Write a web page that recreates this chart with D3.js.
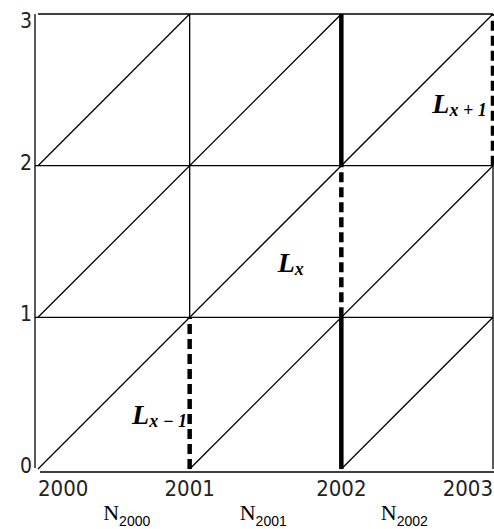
<!DOCTYPE html>
<html>
<head>
<meta charset="utf-8">
<script src="https://cdn.jsdelivr.net/npm/d3@7"></script>
<style>
  body { margin: 0; background: #fff; }
  svg { display: block; }
</style>
</head>
<body>
<div id="chart"></div>
<script>
// Lexis diagram data
var years = [2000, 2001, 2002, 2003];
var ages = [0, 1, 2, 3];
// vertical segments: year, age from, age to, style
var segYear = [2001, 2001, 2002, 2002, 2002, 2003, 2003];
var segFrom = [0, 1, 0, 1, 2, 0, 2];
var segTo   = [1, 3, 1, 2, 3, 2, 3];
var segKind = ["dash", "thin", "thick", "dash", "thick", "thin", "dash"];
// cohort diagonals: start year, start age
var diagYear = [2000, 2001, 2002, 2000, 2000];
var diagAge  = [0, 0, 0, 1, 2];
// L labels
var lSub  = ["x − 1", "x", "x + 1"];
var lYear = [2000.62, 2001.58, 2002.60];
var lAge  = [0.30, 1.30, 2.35];
// N labels
var nSub  = ["2000", "2001", "2002"];
var nYear = [2000.43, 2001.33, 2002.26];

var W = 494, H = 529;
var x = d3.scaleLinear().domain([2000, 2003]).range([38, 493]);
var y = d3.scaleLinear().domain([0, 3]).range([469, 14]);
var tickFont = "'DejaVu Sans Condensed', 'DejaVu Sans', sans-serif";

var svg = d3.select("#chart").append("svg")
  .attr("width", W)
  .attr("height", H);

// horizontal grid lines
svg.selectAll("line.h")
  .data(ages.slice(1))
  .enter().append("line")
  .attr("class", "h")
  .attr("x1", function(d){ return d === 3 ? x(2000) : 35; })
  .attr("x2", x(2003))
  .attr("y1", function(d){ return y(d); })
  .attr("y2", function(d){ return y(d); })
  .attr("stroke", "#000")
  .attr("stroke-width", 1.3);

// diagonals
svg.selectAll("line.diag")
  .data(diagYear)
  .enter().append("line")
  .attr("class", "diag")
  .attr("x1", function(d){ return x(d); })
  .attr("y1", function(d, i){ return y(diagAge[i]); })
  .attr("x2", function(d, i){ var len = Math.min(2003 - d, 3 - diagAge[i]); return x(d + len); })
  .attr("y2", function(d, i){ var len = Math.min(2003 - d, 3 - diagAge[i]); return y(diagAge[i] + len); })
  .attr("stroke", "#000")
  .attr("stroke-width", 1.3);

// vertical segments
svg.selectAll("line.v")
  .data(segYear)
  .enter().append("line")
  .attr("class", "v")
  .attr("x1", function(d){ return x(d); })
  .attr("x2", function(d){ return x(d); })
  .attr("y1", function(d, i){ return y(segFrom[i]); })
  .attr("y2", function(d, i){ return y(segTo[i]); })
  .attr("stroke", "#000")
  .attr("stroke-width", function(d, i){ return segKind[i] === "thin" ? 1.3 : 4.5; })
  .attr("stroke-dasharray", function(d, i){ return segKind[i] === "dash" ? "10,5" : null; });

// y axis
svg.append("line")
  .attr("x1", 35).attr("x2", 35)
  .attr("y1", y(3)).attr("y2", y(0) - 1)
  .attr("stroke", "#000").attr("stroke-width", 1.3);

svg.selectAll("text.ytick")
  .data(ages)
  .enter().append("text")
  .attr("class", "ytick")
  .attr("x", 32)
  .attr("y", function(d){ return Math.max(y(d) + 4, 28); })
  .attr("text-anchor", "end")
  .style("font-family", tickFont)
  .style("font-size", "21px")
  .style("fill", "#222")
  .text(function(d){ return d; });

// x axis
svg.append("line")
  .attr("x1", 40).attr("x2", 494)
  .attr("y1", 472).attr("y2", 472)
  .attr("stroke", "#000").attr("stroke-width", 1.3);

svg.selectAll("text.xtick")
  .data(years)
  .enter().append("text")
  .attr("class", "xtick")
  .attr("x", function(d){ return x(d); })
  .attr("y", 496)
  .attr("text-anchor", function(d, i){ return i === 0 ? "start" : (i === 3 ? "end" : "middle"); })
  .style("font-family", tickFont)
  .style("font-size", "22px")
  .style("fill", "#222")
  .text(function(d){ return d; });

// N labels
var nText = svg.selectAll("text.nlab")
  .data(nSub)
  .enter().append("text")
  .attr("class", "nlab")
  .attr("x", function(d, i){ return x(nYear[i]); })
  .attr("y", 520);
nText.append("tspan")
  .style("font-family", "Liberation Serif")
  .style("font-size", "22px")
  .text("N");
nText.append("tspan")
  .attr("dy", 6)
  .style("font-family", "Liberation Sans")
  .style("font-size", "14px")
  .text(function(d){ return d; });

// L labels
var lText = svg.selectAll("text.llab")
  .data(lSub)
  .enter().append("text")
  .attr("class", "llab")
  .attr("x", function(d, i){ return x(lYear[i]); })
  .attr("y", function(d, i){ return y(lAge[i]); })
  .style("font-family", "Liberation Serif")
  .style("font-weight", "bold");
lText.append("tspan")
  .style("font-size", "28px")
  .style("font-style", "italic")
  .text("L");
lText.append("tspan")
  .attr("dy", 3)
  .style("font-size", "18px")
  .style("font-style", "italic")
  .text(function(d){ return d; });
</script>
</body>
</html>
